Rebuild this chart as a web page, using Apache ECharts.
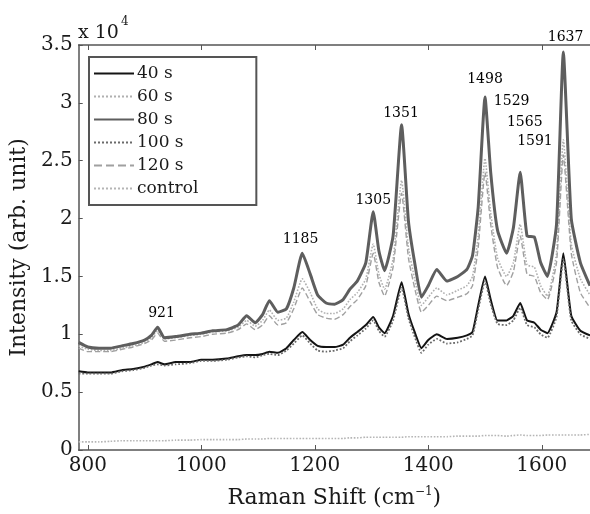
<!DOCTYPE html>
<html>
<head>
<meta charset="utf-8">
<script src="https://cdn.jsdelivr.net/npm/echarts@6/dist/echarts.min.js"></script>
<style>html,body{margin:0;padding:0;background:#fff}#c{width:590px;height:514px}</style>
</head>
<body>
<div id="c"></div>
<script>
// Raman shift (cm^-1) sample positions
var shifts = [784,800,820,840,860,880,900,912,923,935,955,980,1000,1020,1045,1065,1080,1095,1108,1120,1135,1150,1163,1178,1192,1205,1220,1235,1250,1262,1275,1290,1303,1313,1323,1338,1353,1365,1376,1388,1400,1415,1433,1452,1468,1478,1488,1500,1510,1522,1538,1550,1562,1574,1587,1598,1610,1626,1638,1652,1668,1685];
// Intensities in units of 10^4
var s40 = [0.68,0.67,0.67,0.67,0.69,0.70,0.72,0.74,0.76,0.74,0.76,0.76,0.78,0.78,0.79,0.81,0.82,0.82,0.83,0.85,0.84,0.88,0.95,1.02,0.95,0.90,0.89,0.89,0.91,0.97,1.02,1.08,1.15,1.06,1.01,1.16,1.45,1.18,1.02,0.88,0.95,1.00,0.96,0.97,0.99,1.02,1.25,1.50,1.30,1.12,1.12,1.16,1.27,1.12,1.10,1.04,1.01,1.19,1.70,1.16,1.03,0.99];
var s60 = [0.90,0.87,0.86,0.86,0.88,0.90,0.93,0.97,1.03,0.96,0.97,0.99,1.00,1.02,1.03,1.06,1.12,1.07,1.12,1.21,1.12,1.14,1.28,1.48,1.36,1.22,1.18,1.18,1.22,1.30,1.36,1.48,1.78,1.52,1.39,1.65,2.33,1.75,1.48,1.25,1.32,1.40,1.34,1.38,1.42,1.50,1.85,2.52,2.05,1.66,1.50,1.62,1.95,1.60,1.58,1.42,1.33,1.70,2.68,1.78,1.48,1.34];
var s80 = [0.93,0.89,0.88,0.88,0.90,0.92,0.95,0.99,1.06,0.97,0.98,1.00,1.01,1.03,1.04,1.08,1.16,1.10,1.17,1.29,1.19,1.22,1.40,1.70,1.52,1.34,1.27,1.26,1.30,1.39,1.46,1.62,2.06,1.72,1.55,1.85,2.81,1.98,1.62,1.32,1.42,1.56,1.46,1.50,1.56,1.68,2.10,3.05,2.40,1.90,1.70,1.92,2.40,1.85,1.84,1.62,1.50,1.95,3.44,2.00,1.62,1.42];
var s100 = [0.66,0.66,0.66,0.66,0.68,0.69,0.71,0.73,0.74,0.73,0.74,0.75,0.77,0.77,0.78,0.80,0.81,0.80,0.82,0.83,0.82,0.86,0.92,0.99,0.92,0.86,0.85,0.86,0.88,0.94,0.99,1.05,1.12,1.03,0.98,1.12,1.40,1.14,0.98,0.84,0.91,0.96,0.92,0.93,0.96,0.99,1.21,1.46,1.26,1.09,1.08,1.12,1.23,1.08,1.06,1.00,0.97,1.15,1.65,1.12,1.00,0.96];
var s120 = [0.88,0.85,0.85,0.85,0.87,0.89,0.92,0.95,1.01,0.94,0.95,0.97,0.98,1.00,1.01,1.04,1.09,1.04,1.08,1.16,1.08,1.10,1.22,1.40,1.28,1.17,1.14,1.13,1.17,1.24,1.30,1.42,1.70,1.45,1.33,1.58,2.22,1.66,1.40,1.19,1.25,1.33,1.29,1.32,1.35,1.42,1.75,2.40,1.95,1.58,1.42,1.54,1.85,1.52,1.50,1.36,1.30,1.62,2.55,1.70,1.36,1.23];
var sControl = [0.07,0.07,0.07,0.075,0.08,0.08,0.08,0.08,0.08,0.08,0.085,0.085,0.09,0.09,0.09,0.09,0.095,0.095,0.095,0.10,0.10,0.10,0.10,0.10,0.10,0.10,0.10,0.10,0.10,0.105,0.105,0.11,0.11,0.11,0.11,0.11,0.11,0.115,0.115,0.115,0.115,0.115,0.115,0.12,0.12,0.12,0.12,0.125,0.125,0.125,0.12,0.125,0.13,0.125,0.125,0.125,0.13,0.13,0.13,0.13,0.13,0.135];
var seriesNames = ['40 s','60 s','80 s','100 s','120 s','control'];
var xTicks = [800,1000,1200,1400,1600];
// Peak annotations: label, x (cm^-1), y (10^4) of text anchor
var peakText = ['921','1185','1305','1351','1498','1529','1565','1591','1637'];
var peakX = [930,1175,1303,1352,1500,1547,1570,1588,1642];
var peakY = [1.18,1.82,2.16,2.91,3.20,3.01,2.83,2.67,3.57];

function pairs(ys){ return shifts.map(function(x,i){ return [x, ys[i]]; }); }
var FONT = 'DejaVu Serif';
var chart = echarts.init(document.getElementById('c'), null, {renderer:'canvas'});
var styles = [
  {d:s40, color:'#141414', width:2, type:'solid'},
  {d:s60, color:'#b0b0b0', width:1.6, type:'dotted'},
  {d:s80, color:'#5e5e5e', width:3, type:'solid'},
  {d:s100, color:'#6a6a6a', width:1.8, type:'dotted'},
  {d:s120, color:'#a0a0a0', width:1.4, type:'dashed'},
  {d:sControl, color:'#b5b5b5', width:1.6, type:'dotted'}
];
var series = styles.map(function(s,i){
  return {name:seriesNames[i], type:'line', data:pairs(s.d), symbol:'none', showSymbol:false, smooth:0.15,
    lineStyle:{color:s.color, width:s.width, type:s.type}, itemStyle:{color:s.color}, z: i===2?5:3, animation:false};
});
series.push({name:'peaks', type:'scatter', symbolSize:1, clip:false, itemStyle:{color:'rgba(0,0,0,0)'}, animation:false, silent:true, z:10,
  data: peakX.map(function(x,i){ return {value:[x, peakY[i]], name:peakText[i]}; }),
  label:{show:true, position:'inside', formatter:function(p){return p.name;}, fontFamily:FONT, fontSize:14, color:'#000', opacity:1}});

chart.setOption({
  backgroundColor:'#ffffff',
  animation:false,
  grid:{left:77, top:45, right:0, bottom:57},
  legend:{
    data:seriesNames, orient:'vertical', left:89, top:57,
    itemWidth:40, itemHeight:12, itemGap:6,
    padding:[8,58,8,4], borderColor:'#555', borderWidth:2,
    itemStyle:{opacity:0},
    textStyle:{fontFamily:FONT, fontSize:17, color:'#1a1a1a', padding:[0,0,0,-2]}
  },
  xAxis:[{
    type:'value', min:784, max:1685,
    name:'Raman Shift (cm{sup|\u22121})', nameLocation:'middle', nameGap:36,
    nameTextStyle:{fontFamily:FONT, fontSize:22, color:'#1a1a1a',
      rich:{sup:{fontFamily:FONT, fontSize:12, color:'#1a1a1a', verticalAlign:'top', padding:[0,0,12,0]}}},
    axisLine:{show:true, lineStyle:{color:'#555', width:1.5}},
    axisTick:{show:true, inside:true, length:5, customValues:xTicks, lineStyle:{color:'#555'}},
    axisLabel:{customValues:xTicks, formatter:function(v){return String(v);}, fontFamily:FONT, fontSize:20, color:'#1a1a1a', margin:6},
    splitLine:{show:false}
  },{
    type:'value', position:'top', min:784, max:1685,
    axisLine:{show:true, lineStyle:{color:'#555', width:1.5}},
    axisTick:{show:true, inside:true, length:5, customValues:xTicks, lineStyle:{color:'#555'}},
    axisLabel:{show:false}, splitLine:{show:false}
  }],
  yAxis:{
    type:'value', min:0, max:3.5, interval:0.5,
    name:'Intensity (arb. unit)', nameLocation:'middle', nameGap:48,
    nameTextStyle:{fontFamily:FONT, fontSize:22, color:'#1a1a1a'},
    axisLine:{show:true, lineStyle:{color:'#555', width:1.5}},
    axisTick:{show:true, inside:true, length:4, lineStyle:{color:'#555'}},
    axisLabel:{fontFamily:FONT, fontSize:20, color:'#1a1a1a', margin:6},
    splitLine:{show:false}
  },
  graphic:[
    {type:'text', left:78, top:24, style:{text:'x 10', fontFamily:FONT, fontSize:19, fill:'#1a1a1a'}},
    {type:'text', left:121, top:16, style:{text:'4', fontFamily:FONT, fontSize:12, fill:'#1a1a1a'}}
  ],
  series:series
});
</script>
</body>
</html>
